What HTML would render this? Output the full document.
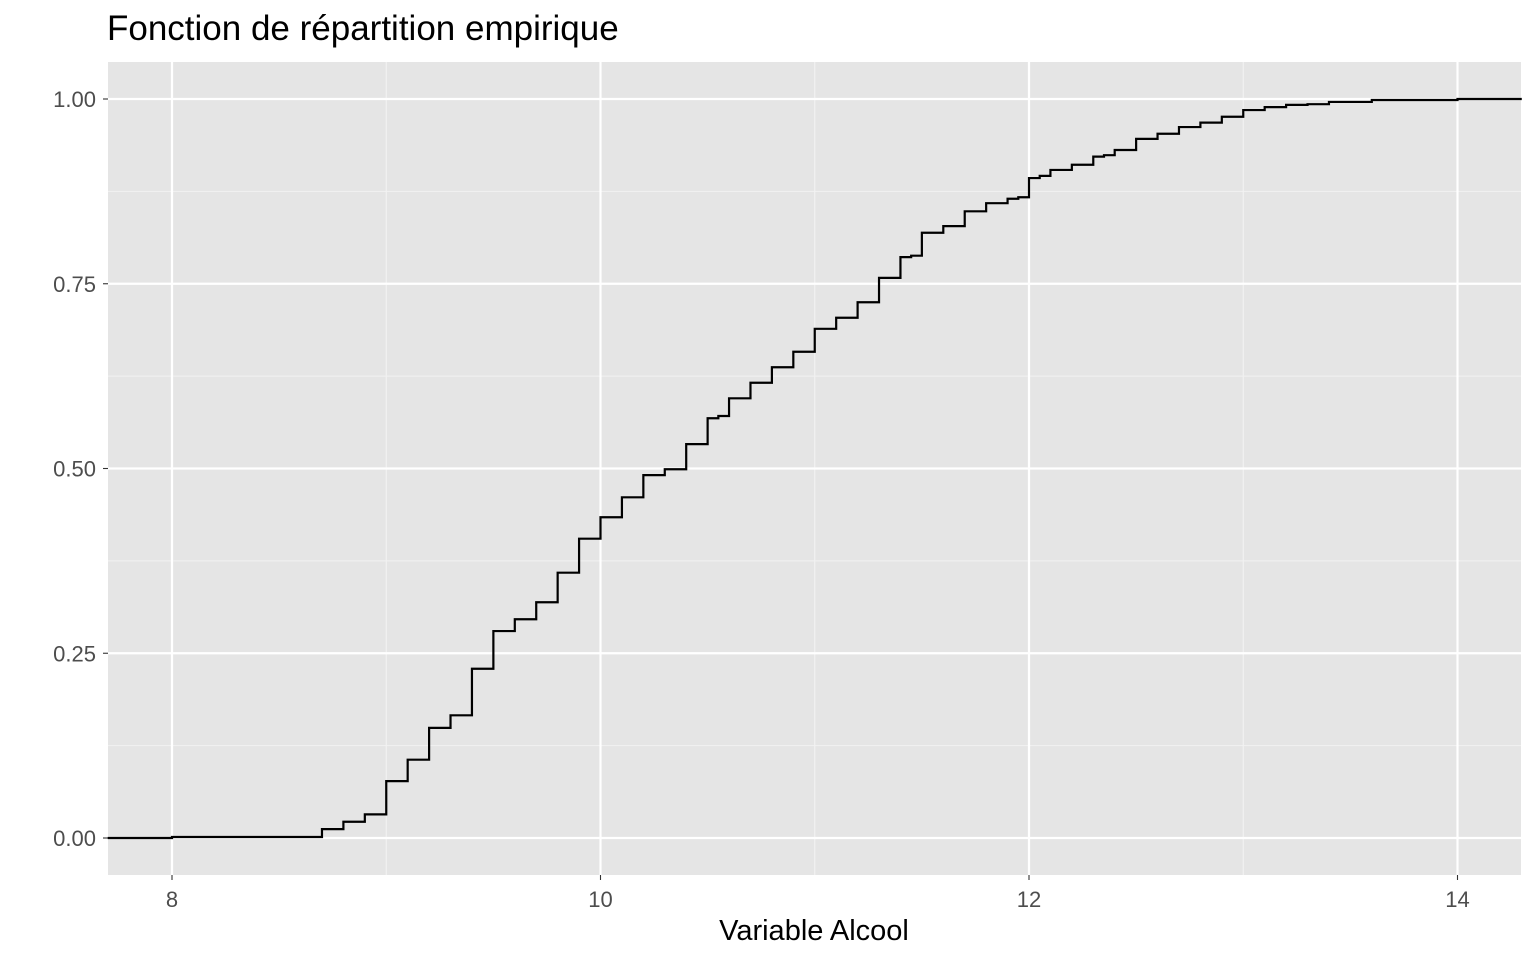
<!DOCTYPE html>
<html><head><meta charset="utf-8"><style>
body{margin:0;background:#fff;font-family:"Liberation Sans",Arial,sans-serif}
</style></head><body>
<svg width="1536" height="960" xmlns="http://www.w3.org/2000/svg" id="chart">
<text x="107" y="40" font-size="35" fill="#000">Fonction de répartition empirique</text>
<rect x="108" y="62" width="1413" height="813" fill="#e5e5e5"/>
<g id="grid"></g>
<g id="axes"></g>
<path id="ecdf" fill="none" stroke="#000" stroke-width="2.2"/>
<text x="814" y="940" font-size="29" text-anchor="middle" fill="#000">Variable Alcool</text>
</svg>
<script>
const stepX=[8.0,8.7,8.8,8.9,9.0,9.1,9.2,9.3,9.4,9.5,9.6,9.7,9.8,9.9,10.0,10.1,10.2,10.3,10.4,10.5,10.55,10.6,10.7,10.8,10.9,11.0,11.1,11.2,11.3,11.4,11.45,11.5,11.6,11.7,11.8,11.9,11.95,12.0,12.05,12.1,12.2,12.3,12.35,12.4,12.5,12.6,12.7,12.8,12.9,13.0,13.1,13.2,13.3,13.4,13.6,14.0];
const stepY=[0.0014,0.012,0.022,0.032,0.077,0.106,0.149,0.166,0.229,0.280,0.296,0.319,0.359,0.405,0.434,0.461,0.491,0.499,0.533,0.568,0.571,0.595,0.616,0.637,0.658,0.689,0.704,0.725,0.758,0.786,0.788,0.819,0.828,0.848,0.859,0.865,0.867,0.893,0.896,0.904,0.911,0.922,0.924,0.931,0.946,0.953,0.962,0.968,0.976,0.985,0.989,0.992,0.993,0.996,0.9986,1.0];
const xTicks=[8,10,12,14];
const xMinor=[9,11,13];
const yTicks=[0,0.25,0.5,0.75,1];
const yMinor=[0.125,0.375,0.625,0.875];
const xDomain=[7.7,14.3];
const X=v=>172+(v-8)*214.25;
const Y=v=>838-v*739;
const NS="http://www.w3.org/2000/svg";
const grid=document.getElementById('grid'),axes=document.getElementById('axes');
function line(p,x1,y1,x2,y2,c,w){const l=document.createElementNS(NS,'line');l.setAttribute('x1',x1);l.setAttribute('y1',y1);l.setAttribute('x2',x2);l.setAttribute('y2',y2);l.setAttribute('stroke',c);l.setAttribute('stroke-width',w);p.appendChild(l);return l;}
function text(x,y,s,anchor){const t=document.createElementNS(NS,'text');t.setAttribute('x',x);t.setAttribute('y',y);t.setAttribute('font-size','22');t.setAttribute('fill','#4d4d4d');t.setAttribute('text-anchor',anchor);t.textContent=s;axes.appendChild(t);return t;}
yMinor.forEach(v=>{const l=line(grid,108,Y(v),1521,Y(v),'#f2f2f2',1.1);

});
xMinor.forEach(v=>{const l=line(grid,X(v),62,X(v),875,'#f2f2f2',1.1);

});
yTicks.forEach(v=>{const l=line(grid,108,Y(v),1521,Y(v),'#fff',2.2);


const k=line(axes,103,Y(v),108,Y(v),'#333',1.1);


const t=text(96,Y(v)+8,v.toFixed(2),'end');

});
xTicks.forEach(v=>{const l=line(grid,X(v),62,X(v),875,'#fff',2.2);


const k=line(axes,X(v),875,X(v),880,'#333',1.1);


const t=text(X(v),907,String(v),'middle');

});
let d='M'+X(xDomain[0])+','+Y(0);
let prev=0;
stepX.forEach((x,i)=>{d+=' L'+X(x)+','+Y(prev)+' L'+X(x)+','+Y(stepY[i]);prev=stepY[i];});
d+=' L'+X(xDomain[1])+','+Y(prev);
document.getElementById('ecdf').setAttribute('d',d);
</script>
</body></html>
